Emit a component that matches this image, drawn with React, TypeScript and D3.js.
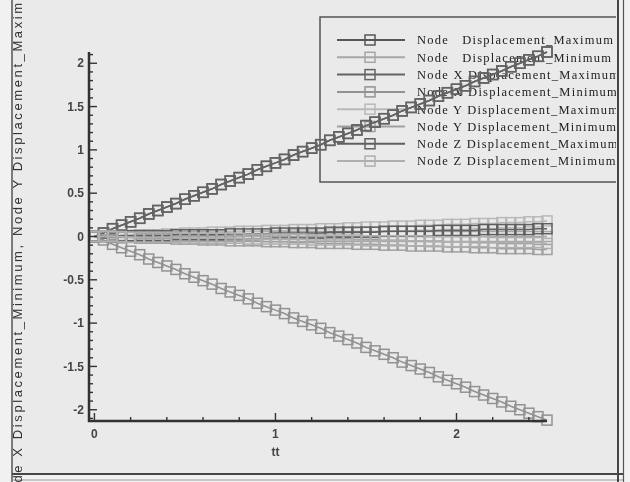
import React, { useEffect, useRef } from 'react';
import * as d3 from 'd3';

// time steps (t)
const time = [
  0, 0.05, 0.1, 0.15, 0.2, 0.25, 0.3, 0.35, 0.4, 0.45,
  0.5, 0.55, 0.6, 0.65, 0.7, 0.75, 0.8, 0.85, 0.9, 0.95,
  1, 1.05, 1.1, 1.15, 1.2, 1.25, 1.3, 1.35, 1.4, 1.45,
  1.5, 1.55, 1.6, 1.65, 1.7, 1.75, 1.8, 1.85, 1.9, 1.95,
  2, 2.05, 2.1, 2.15, 2.2, 2.25, 2.3, 2.35, 2.4, 2.45,
  2.5,
];

const dispMax = [
  0, 0.04, 0.09, 0.13, 0.17, 0.21, 0.26, 0.30, 0.34, 0.38,
  0.43, 0.47, 0.51, 0.55, 0.60, 0.64, 0.68, 0.72, 0.77, 0.81,
  0.85, 0.89, 0.94, 0.98, 1.02, 1.06, 1.11, 1.15, 1.19, 1.23,
  1.28, 1.32, 1.36, 1.40, 1.45, 1.49, 1.53, 1.57, 1.62, 1.66,
  1.70, 1.74, 1.79, 1.83, 1.87, 1.91, 1.96, 2.00, 2.04, 2.08,
  2.13,
];

const dispMin = [
  0, 0, 0, 0, 0, 0, 0, 0, 0, 0,
  0, 0, 0, 0, 0, 0, 0, 0, 0, 0,
  0, 0, 0, 0, 0, 0, 0, 0, 0, 0,
  0, 0, 0, 0, 0, 0, 0, 0, 0, 0,
  0, 0, 0, 0, 0, 0, 0, 0, 0, 0,
  0,
];

const xDispMax = [
  0, 0.04, 0.09, 0.13, 0.17, 0.21, 0.26, 0.30, 0.34, 0.38,
  0.43, 0.47, 0.51, 0.55, 0.60, 0.64, 0.68, 0.72, 0.77, 0.81,
  0.85, 0.89, 0.94, 0.98, 1.02, 1.06, 1.11, 1.15, 1.19, 1.23,
  1.28, 1.32, 1.36, 1.40, 1.45, 1.49, 1.53, 1.57, 1.62, 1.66,
  1.70, 1.74, 1.79, 1.83, 1.87, 1.91, 1.96, 2.00, 2.04, 2.08,
  2.13,
];

const xDispMin = [
  0, -0.04, -0.09, -0.13, -0.17, -0.21, -0.26, -0.30, -0.34, -0.38,
  -0.43, -0.47, -0.51, -0.55, -0.60, -0.64, -0.68, -0.72, -0.77, -0.81,
  -0.85, -0.89, -0.94, -0.98, -1.02, -1.06, -1.11, -1.15, -1.19, -1.23,
  -1.28, -1.32, -1.36, -1.40, -1.45, -1.49, -1.53, -1.57, -1.62, -1.66,
  -1.70, -1.74, -1.79, -1.83, -1.87, -1.91, -1.96, -2.00, -2.04, -2.08,
  -2.12,
];

const yDispMax = [
  0, 0.00, 0.01, 0.01, 0.01, 0.02, 0.02, 0.02, 0.03, 0.03,
  0.04, 0.04, 0.04, 0.05, 0.05, 0.05, 0.06, 0.06, 0.06, 0.07,
  0.07, 0.07, 0.08, 0.08, 0.08, 0.09, 0.09, 0.09, 0.10, 0.10,
  0.11, 0.11, 0.11, 0.12, 0.12, 0.12, 0.13, 0.13, 0.13, 0.14,
  0.14, 0.14, 0.15, 0.15, 0.15, 0.16, 0.16, 0.16, 0.17, 0.17,
  0.18,
];

const yDispMin = [
  0, 0.00, -0.01, -0.01, -0.01, -0.02, -0.02, -0.02, -0.02, -0.03,
  -0.03, -0.03, -0.04, -0.04, -0.04, -0.05, -0.05, -0.05, -0.05, -0.06,
  -0.06, -0.06, -0.07, -0.07, -0.07, -0.08, -0.08, -0.08, -0.08, -0.09,
  -0.09, -0.09, -0.10, -0.10, -0.10, -0.11, -0.11, -0.11, -0.11, -0.12,
  -0.12, -0.12, -0.13, -0.13, -0.13, -0.14, -0.14, -0.14, -0.14, -0.15,
  -0.15,
];

const zDispMax = [
  0, 0.00, 0.00, 0.01, 0.01, 0.01, 0.01, 0.01, 0.01, 0.02,
  0.02, 0.02, 0.02, 0.02, 0.02, 0.03, 0.03, 0.03, 0.03, 0.03,
  0.04, 0.04, 0.04, 0.04, 0.04, 0.04, 0.05, 0.05, 0.05, 0.05,
  0.05, 0.05, 0.06, 0.06, 0.06, 0.06, 0.06, 0.06, 0.07, 0.07,
  0.07, 0.07, 0.07, 0.08, 0.08, 0.08, 0.08, 0.08, 0.08, 0.09,
  0.09,
];

const zDispMin = [
  0, 0.00, 0.00, 0.00, -0.01, -0.01, -0.01, -0.01, -0.01, -0.01,
  -0.02, -0.02, -0.02, -0.02, -0.02, -0.02, -0.02, -0.03, -0.03, -0.03,
  -0.03, -0.03, -0.03, -0.03, -0.04, -0.04, -0.04, -0.04, -0.04, -0.04,
  -0.05, -0.05, -0.05, -0.05, -0.05, -0.05, -0.05, -0.06, -0.06, -0.06,
  -0.06, -0.06, -0.06, -0.06, -0.07, -0.07, -0.07, -0.07, -0.07, -0.07,
  -0.08,
];

const seriesNames = [
  'Node   Displacement_Maximum',
  'Node   Displacement_Minimum',
  'Node X Displacement_Maximum',
  'Node X Displacement_Minimum',
  'Node Y Displacement_Maximum',
  'Node Y Displacement_Minimum',
  'Node Z Displacement_Maximum',
  'Node Z Displacement_Minimum',
];
const seriesValues = [dispMax, dispMin, xDispMax, xDispMin, yDispMax, yDispMin, zDispMax, zDispMin];
const seriesColors = ['#575757', '#a6a6a6', '#646464', '#929292', '#b9b9b9', '#a0a0a0', '#5f5f5f', '#afafaf'];

const yTicks = [-2, -1.5, -1, -0.5, 0, 0.5, 1, 1.5, 2];
const xTicks = [0, 1, 2];
const xLabel = 'tt';
const yLabel = [
  'Node Displacement_Maximum', 'Node Displacement_Minimum',
  'Node X Displacement_Maximum', 'Node X Displacement_Minimum',
  'Node Y Displacement_Maximum', 'Node Y Displacement_Minimum',
  'Node Z Displacement_Maximum', 'Node Z Displacement_Minimum',
].join(', ');

function App() {
  const ref = useRef<SVGSVGElement>(null);
  const width = 630;
  const height = 482;

  useEffect(() => {
    const svg = d3.select(ref.current);
    svg.selectAll('*').remove();

    const x = d3.scaleLinear().domain([-0.03, 2.5]).range([89, 547]);
    const y = d3.scaleLinear().domain([-2.13, 2.13]).range([421, 52]);
    const ink = '#333';

    const defs = svg.append('defs');
    defs.append('filter').attr('id', 'soft')
      .append('feGaussianBlur').attr('stdDeviation', 0.6);
    defs.append('clipPath').attr('id', 'frameClip')
      .append('rect').attr('x', 0).attr('y', 0).attr('width', 616).attr('height', 473);

    svg.append('rect').attr('width', width).attr('height', height).attr('fill', '#f1f1f1');
    svg.append('rect').attr('x', 12).attr('y', 0).attr('width', 606).attr('height', 474).attr('fill', '#eaeaea');

    const g = svg.append('g').attr('filter', 'url(#soft)');

    // frame
    g.append('line').attr('x1', 12).attr('x2', 12).attr('y1', 0).attr('y2', 482)
      .attr('stroke', '#555').attr('stroke-width', 1.5);
    g.append('line').attr('x1', 12).attr('x2', 623).attr('y1', 474).attr('y2', 474)
      .attr('stroke', '#444').attr('stroke-width', 2);
    g.append('line').attr('x1', 12).attr('x2', 623).attr('y1', 480).attr('y2', 480)
      .attr('stroke', '#999').attr('stroke-width', 1);
    g.append('line').attr('x1', 618).attr('x2', 618).attr('y1', 0).attr('y2', 482)
      .attr('stroke', '#444').attr('stroke-width', 2);
    g.append('line').attr('x1', 623.5).attr('x2', 623.5).attr('y1', 0).attr('y2', 482)
      .attr('stroke', '#555').attr('stroke-width', 1.2);

    // y axis label (long, clipped by the window like the original)
    g.append('text')
      .attr('transform', 'translate(22,226) rotate(-90)')
      .attr('text-anchor', 'middle')
      .style('font-family', '"Liberation Sans", Arial, sans-serif')
      .style('font-size', '13px')
      .style('letter-spacing', '2.6px')
      .attr('fill', '#333')
      .text(yLabel);

    // legend
    const leg = g.append('g').attr('clip-path', 'url(#frameClip)');
    leg.append('rect').attr('x', 320).attr('y', 17).attr('width', 298).attr('height', 165)
      .attr('fill', 'none').attr('stroke', '#555').attr('stroke-width', 1.5);
    const item = leg.selectAll('.item')
      .data(seriesNames)
      .enter().append('g')
      .attr('class', 'item')
      .attr('transform', (d, i) => `translate(0,${40 + i * 17.3})`);
    item.append('line').attr('x1', 337).attr('x2', 405)
      .attr('stroke', (d, i) => seriesColors[i]).attr('stroke-width', 2);
    item.append('rect').attr('x', 365).attr('y', -5).attr('width', 10).attr('height', 10)
      .attr('fill', 'none').attr('stroke', (d, i) => seriesColors[i]).attr('stroke-width', 1.5);
    item.append('text')
      .attr('x', 417).attr('dy', '0.35em')
      .attr('xml:space', 'preserve')
      .style('white-space', 'pre')
      .style('font-family', '"Liberation Serif", "Times New Roman", serif')
      .style('font-size', '12.5px')
      .style('letter-spacing', '1.25px')
      .attr('fill', '#222')
      .text(d => d);

    // series
    const line = d3.line<number>()
      .x((d, i) => x(time[i]))
      .y(d => y(d));
    seriesValues.forEach((vals, s) => {
      const sg = g.append('g');
      sg.append('path')
        .datum(vals)
        .attr('d', line)
        .attr('fill', 'none')
        .attr('stroke', seriesColors[s])
        .attr('stroke-width', 1.6);
      sg.selectAll('rect')
        .data(vals)
        .enter().append('rect')
        .attr('x', (d, i) => x(time[i]) - 5)
        .attr('y', d => y(d) - 5)
        .attr('width', 10)
        .attr('height', 10)
        .attr('fill', 'none')
        .attr('stroke', seriesColors[s])
        .attr('stroke-width', 1.5);
    });

    // axes
    const axes = g.append('g').attr('stroke', ink);
    axes.append('line').attr('x1', 89).attr('x2', 89).attr('y1', y.range()[1]).attr('y2', y.range()[0] + 1)
      .attr('stroke-width', 2.5);
    axes.append('line').attr('x1', 88).attr('x2', x.range()[1]).attr('y1', 421).attr('y2', 421)
      .attr('stroke-width', 2.5);

    axes.selectAll('.ymin').data(d3.range(-21, 22)).enter().append('line')
      .attr('x1', 89).attr('x2', d => (d % 5 === 0 ? 97 : 93))
      .attr('y1', d => y(d / 10)).attr('y2', d => y(d / 10))
      .attr('stroke-width', 1.4);
    axes.selectAll('.xmin').data(d3.range(0, 13)).enter().append('line')
      .attr('x1', d => x(d / 5)).attr('x2', d => x(d / 5))
      .attr('y1', 421).attr('y2', d => (d % 5 === 0 ? 413 : 417))
      .attr('stroke-width', 1.4);

    g.selectAll('.ylab').data(yTicks).enter().append('text')
      .attr('x', 84).attr('y', d => y(d)).attr('dy', '0.35em')
      .attr('text-anchor', 'end')
      .style('font-family', '"Liberation Sans", Arial, sans-serif')
      .style('font-size', '12px').style('font-weight', 'bold')
      .attr('fill', '#444')
      .text(d => d);
    g.selectAll('.xlab').data(xTicks).enter().append('text')
      .attr('x', d => x(d)).attr('y', 434).attr('dy', '0.35em')
      .attr('text-anchor', 'middle')
      .style('font-family', '"Liberation Sans", Arial, sans-serif')
      .style('font-size', '12px').style('font-weight', 'bold')
      .attr('fill', '#444')
      .text(d => d);
    g.append('text')
      .attr('x', x(1)).attr('y', 452).attr('dy', '0.35em')
      .attr('text-anchor', 'middle')
      .style('font-family', '"Liberation Sans", Arial, sans-serif')
      .style('font-size', '12px').style('font-weight', 'bold')
      .attr('fill', '#444')
      .text(xLabel);
  }, []);

  return (
    <div style={{ position: 'fixed', left: 0, top: 0 }}>
      <svg ref={ref} width={width} height={height} style={{ display: 'block' }}></svg>
    </div>
  );
}

export default App;
